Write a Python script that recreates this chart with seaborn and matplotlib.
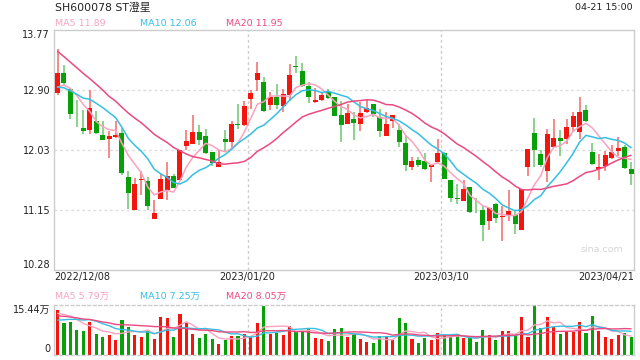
import numpy as np
import pandas as pd
import seaborn as sns
import matplotlib.pyplot as plt
# --------------------------------------------------------------------------------------------------
# Daily candles SH600078, 2022/12/08 - 2023/04/21 (prices in CNY, volume in 万)
open_px = [12.86, 13.15, 12.91, 12.45, 12.34, 12.32, 12.45, 12.24, 12.19, 12.21,
           12.27, 11.63, 11.15, 11.58, 11.57, 11.02, 11.31, 11.44, 11.65, 11.58,
           12.08, 12.11, 12.29, 12.23, 11.99, 11.78, 12.18, 12.14, 12.40, 12.39,
           12.76, 13.04, 13.01, 12.68, 12.79, 12.67, 12.83, 13.25, 13.18, 12.96,
           12.73, 12.75, 12.87, 12.79, 12.53, 12.40, 12.48, 12.40, 12.57, 12.69,
           12.50, 12.22, 12.44, 12.31, 12.13, 11.77, 11.88, 11.86, 11.78, 11.85,
           11.98, 11.58, 11.32, 11.28, 11.48, 11.24, 11.15, 10.99, 11.23, 11.05,
           11.07, 11.07, 10.86, 11.77, 12.27, 11.96, 11.72, 12.07, 12.20, 12.19,
           12.36, 12.29, 12.61, 11.99, 11.74, 11.79, 11.91, 12.01, 12.07, 11.75]
high_px = [13.50, 13.26, 12.92, 12.75, 12.61, 12.90, 12.59, 12.45, 12.30, 12.45,
           12.35, 11.71, 11.61, 11.71, 11.63, 11.29, 11.67, 11.85, 11.68, 12.03,
           12.32, 12.53, 12.39, 12.33, 11.99, 12.02, 12.31, 12.44, 12.69, 12.74,
           12.90, 13.30, 13.09, 12.87, 12.99, 12.91, 13.27, 13.39, 13.29, 13.01,
           12.92, 12.85, 12.91, 12.80, 12.74, 12.70, 12.57, 12.73, 12.75, 12.69,
           12.62, 12.58, 12.54, 12.40, 12.24, 11.92, 11.92, 11.98, 11.81, 12.19,
           11.99, 11.58, 11.53, 11.59, 11.48, 11.32, 11.20, 11.17, 11.25, 11.20,
           11.44, 11.14, 11.45, 12.04, 12.49, 12.03, 12.33, 12.47, 12.31, 12.48,
           12.58, 12.80, 12.68, 12.12, 11.96, 12.01, 12.09, 12.21, 12.10, 11.85]
low_px = [12.83, 12.97, 12.48, 12.36, 12.25, 12.25, 12.26, 12.17, 11.91, 12.20,
          11.66, 11.16, 11.15, 11.36, 11.15, 11.02, 11.31, 11.30, 11.47, 11.58,
          12.03, 12.11, 12.10, 11.97, 11.79, 11.78, 12.01, 12.05, 12.33, 12.37,
          12.62, 12.89, 12.57, 12.61, 12.62, 12.57, 12.74, 13.14, 12.94, 12.71,
          12.71, 12.74, 12.76, 12.52, 12.14, 12.40, 12.17, 12.30, 12.56, 12.51,
          12.21, 12.22, 12.35, 12.06, 11.71, 11.73, 11.78, 11.73, 11.55, 11.85,
          11.60, 11.27, 11.24, 11.28, 11.11, 11.10, 10.70, 10.85, 10.96, 10.70,
          10.99, 10.80, 10.86, 11.65, 11.77, 11.78, 11.56, 12.06, 11.94, 12.11,
          12.29, 12.19, 12.43, 11.81, 11.59, 11.72, 11.89, 11.93, 11.75, 11.51]
close_px = [13.14, 13.00, 12.55, 12.44, 12.30, 12.64, 12.27, 12.17, 12.22, 12.24,
            11.69, 11.39, 11.53, 11.60, 11.21, 11.11, 11.60, 11.65, 11.47, 12.02,
            12.15, 12.29, 12.17, 11.98, 11.84, 11.85, 12.14, 12.40, 12.39, 12.66,
            12.85, 13.15, 12.59, 12.79, 12.68, 12.84, 13.12, 13.24, 12.96, 12.79,
            12.75, 12.83, 12.78, 12.52, 12.39, 12.56, 12.42, 12.56, 12.63, 12.55,
            12.30, 12.40, 12.53, 12.14, 11.81, 11.86, 11.80, 11.74, 11.81, 11.98,
            11.60, 11.33, 11.31, 11.45, 11.12, 11.23, 10.93, 11.17, 11.03, 11.06,
            11.14, 10.94, 11.45, 12.04, 12.02, 11.80, 12.25, 12.20, 12.15, 12.36,
            12.52, 12.58, 12.44, 11.82, 11.77, 11.95, 11.99, 12.05, 11.76, 11.68]
volume = [13.9, 9.9, 10.1, 7.6, 7.3, 10.1, 6.4, 5.4, 6.1, 4.5,
          10.8, 8.6, 6.1, 5.4, 7.5, 4.8, 11.7, 11.4, 5.4, 12.8,
          10.0, 6.5, 5.1, 6.4, 4.8, 3.3, 4.5, 5.8, 5.8, 6.5,
          5.8, 9.8, 15.2, 6.5, 6.9, 6.2, 8.9, 7.4, 7.1, 8.2,
          5.2, 4.8, 4.2, 7.9, 8.3, 5.4, 6.6, 4.8, 3.9, 3.6,
          5.8, 5.4, 4.5, 11.4, 9.8, 4.8, 3.6, 5.1, 4.5, 6.7,
          6.1, 5.4, 6.1, 5.1, 5.1, 3.9, 7.6, 6.1, 4.5, 7.3,
          7.3, 6.4, 11.8, 5.4, 15.44, 8.4, 11.8, 8.6, 6.4, 7.0,
          7.1, 10.2, 6.8, 12.1, 7.4, 5.5, 4.9, 6.2, 6.8, 5.55]
# sessions before the window, estimated from where the MA lines start
prior_close = [14.50, 14.20, 14.05, 13.95, 14.15, 13.90, 13.85, 14.10, 13.60, 13.50,
               13.10, 13.00, 12.95, 12.85, 12.80, 12.85, 12.80, 12.95, 12.96]
prior_volume = [12.0, 14.5, 13.0, 15.0, 12.5, 14.0, 13.5, 12.0, 14.0, 13.5,
                9.0, 8.5, 8.0, 9.5, 8.5, 11.5, 13.0, 12.6, 13.5]
date_ticks = [-0.5, 29.5, 59.5, 89.5]
date_labels = ['2022/12/08', '2023/01/20', '2023/03/10', '2023/04/21']
price_ticks = [13.77, 12.90, 12.03, 11.15, 10.28]
# --------------------------------------------------------------------------------------------------
RED, GREEN = '#f2160f', '#08a008'
RED_WICK, GREEN_WICK = '#f26a66', '#6cc76c'
MA_COLORS = {5: '#f9a3bf', 10: '#35bfe3', 20: '#ec4a7f'}
TXT = '#222222'

sns.set_theme(style='white')
plt.rcParams['font.family'] = ['DejaVu Sans', 'Noto Sans CJK SC']

n = len(close_px)
x = np.arange(n)
o, h, l, c = (np.array(v) for v in (open_px, high_px, low_px, close_px))
up = c > o

closes = pd.Series(prior_close + close_px)
vols = pd.Series(prior_volume + volume)
ma = {k: closes.rolling(k).mean().to_numpy()[-n:] for k in (5, 10, 20)}
vma = {k: vols.rolling(k).mean().to_numpy()[-n:] for k in (5, 10, 20)}

fig = plt.figure(figsize=(6.4, 3.6), dpi=100)
ax = fig.add_axes([54.3 / 640, 1 - 269.5 / 360, 580 / 640, 239.3 / 360])
axv = fig.add_axes([54.3 / 640, 1 - 354.5 / 360, 580 / 640, 49.2 / 360])

# ---- price panel
for yv in price_ticks[1:-1]:
    ax.axhline(yv, color='#dddddd', lw=1, ls=(0, (2, 2)), zorder=0)
for a in (ax, axv):
    for xv in date_ticks[1:-1]:
        a.axvline(xv, color='#cccccc', lw=1, ls=(0, (2, 2)), zorder=0)

ax.vlines(x, l, h, colors=np.where(up, RED_WICK, GREEN_WICK), lw=1.1, zorder=2)
ax.bar(x, np.maximum(np.abs(c - o), 0.012), bottom=np.minimum(o, c), width=0.78,
       color=np.where(up, RED, GREEN), linewidth=0, zorder=3)
for k in (5, 10, 20):
    sns.lineplot(x=x, y=ma[k], color=MA_COLORS[k], lw=1.1, ax=ax, zorder=4)

ax.set_xlim(-0.5, n - 0.5)
ax.set_ylim(10.28, 13.77)
ax.set_yticks(price_ticks)
ax.set_yticklabels([f'{v:.2f}' for v in price_ticks])
ax.set_xticks(date_ticks)
ax.set_xticklabels(date_labels)
ax.tick_params(length=0, labelsize=7, labelcolor=TXT, pad=3)
ax.tick_params(axis='x', pad=2)
ylbl = ax.get_yticklabels()
ylbl[0].set_va('top')
ylbl[-1].set_va('bottom')
xlbl = ax.get_xticklabels()
xlbl[0].set_ha('left')
xlbl[-1].set_ha('right')
ax.set_xlabel('')
ax.set_ylabel('')
for s in ax.spines.values():
    s.set_color('#cccccc')
    s.set_linewidth(1)
fig.text(602 / 640, 1 - 249 / 360, 'sina.com', ha='center', va='center',
         fontsize=6.8, color='#d6d6d6')

# ---- volume panel
axv.bar(x, volume, width=0.48, color=np.where(up, RED, GREEN), linewidth=0, zorder=2)
for k in (5, 10, 20):
    sns.lineplot(x=x, y=vma[k], color=MA_COLORS[k], lw=1.0, ax=axv, zorder=4)
axv.set_xlim(-0.5, n - 0.5)
axv.set_ylim(0, 15.44)
axv.set_yticks([0, 15.44])
axv.set_yticklabels(['0', '15.44万'])
axv.set_xticks([])
axv.tick_params(length=0, labelsize=7, labelcolor=TXT, pad=3)
vlbl = axv.get_yticklabels()
vlbl[0].set_va('bottom')
vlbl[1].set_va('top')
axv.set_xlabel('')
axv.set_ylabel('')
for name, s in axv.spines.items():
    s.set_color('#cccccc')
    s.set_linewidth(1)
    if name in ('top', 'bottom'):
        s.set_linestyle((0, (2, 2)))

# ---- header texts
fig.text(55 / 640, 1 - 8 / 360, 'SH600078 ST澄星', fontsize=7.8, color=TXT, va='center')
fig.text(633 / 640, 1 - 7 / 360, '04-21 15:00', fontsize=6.8, color=TXT, va='center', ha='right')
ma_x = {5: 55, 10: 140.5, 20: 225.5}
for k in (5, 10, 20):
    fig.text(ma_x[k] / 640, 1 - 24 / 360, f'MA{k} {ma[k][-1]:.2f}', fontsize=6.8,
             color=MA_COLORS[k], va='center')
    fig.text(ma_x[k] / 640, 1 - 296 / 360, f'MA{k} {vma[k][-1]:.2f}万', fontsize=6.8,
             color=MA_COLORS[k], va='center')

fig.savefig('out.png', dpi=100)
